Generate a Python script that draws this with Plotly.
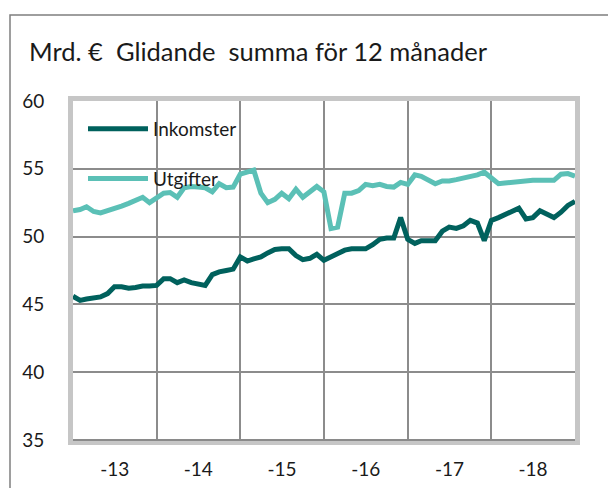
import pandas as pd
import plotly.graph_objects as go

# Monthly data, Jan 2013 .. Jan 2019 (rolling 12-month sum, bn EUR)
dates = pd.date_range("2013-01-01", periods=73, freq="MS")

inkomster = [45.6, 45.3, 45.4, 45.45, 45.55, 45.8, 46.3, 46.3, 46.2, 46.25, 46.35, 46.35,
             46.4, 46.9, 46.9, 46.6, 46.8, 46.6, 46.5, 46.4, 47.2, 47.4, 47.5, 47.6,
             48.5, 48.2, 48.35, 48.5, 48.8, 49.05, 49.1, 49.1, 48.6, 48.3, 48.4, 48.7,
             48.25, 48.5, 48.8, 49.0, 49.1, 49.1, 49.1, 49.4, 49.8, 49.9, 49.9, 51.4,
             49.8, 49.5, 49.7, 49.7, 49.7, 50.4, 50.7, 50.6, 50.8, 51.2, 51.0, 49.7,
             51.2, 51.4, 51.6, 51.9, 52.1, 51.3, 51.4, 51.9, 51.6, 51.4, 51.8, 52.3, 52.6]

utgifter = [51.9, 52.0, 52.2, 51.85, 51.75, 51.9, 52.1, 52.25, 52.45, 52.7, 52.9, 52.5,
            52.9, 53.2, 53.25, 52.9, 53.6, 53.7, 53.65, 53.6, 53.3, 53.9, 53.6, 53.65,
            54.6, 54.75, 54.9, 53.2, 52.5, 52.75, 53.2, 52.8, 53.5, 52.9, 53.3, 53.7,
            53.3, 50.6, 50.7, 53.2, 53.2, 53.4, 53.85, 53.75, 53.85, 53.7, 53.65, 54.0,
            53.85, 54.55, 54.45, 54.2, 53.9, 54.1, 54.1, 54.2, 54.3, 54.4, 54.55, 54.75,
            54.3, 53.9, 53.95, 54.0, 54.1, 54.15, 54.15, 54.15, 54.15, 54.15, 54.6, 54.65, 54.45]

year_starts = ["2013-01-01", "2014-01-01", "2015-01-01", "2016-01-01",
               "2017-01-01", "2018-01-01", "2019-01-01"]
label_pos = ["2013-07-02", "2014-07-02", "2015-07-02", "2016-07-02",
             "2017-07-02", "2018-07-02"]
x_labels = ["-13", "-14", "-15", "-16", "-17", "-18"]
y_ticks = [35, 40, 45, 50, 55, 60]

title_text = "Mrd. €  Glidande  summa för 12 månader"

FONT = "Lato"
OFF = 8  # page body margin offset
W, H = 616, 488
# plot area in page pixels: x 73..575, y 101..440
ML, MT = 73 - OFF, 101 - OFF
MR, MB = W - (575 - OFF), H - (440 - OFF)
PW, PH = W - ML - MR, H - MT - MB

fig = go.Figure()
fig.add_trace(go.Scatter(x=dates, y=inkomster, mode="lines", name="Inkomster",
                         legendgroup="a",
                         line=dict(color="#00615d", width=5)))
fig.add_trace(go.Scatter(x=dates, y=utgifter, mode="lines", name="Utgifter",
                         legendgroup="b",
                         line=dict(color="#5bc0b6", width=5)))

def px_x(p):
    return (p - OFF - ML) / PW

def px_y(p):
    return (H - MB - (p - OFF)) / PH

fig.update_layout(
    width=W, height=H,
    margin=dict(l=ML, r=MR, t=MT, b=MB, autoexpand=False),
    paper_bgcolor="white", plot_bgcolor="white",
    font=dict(family=FONT, color="#1a1a1a", size=19),
    showlegend=True,
    legend=dict(x=px_x(83), y=px_y(110), xanchor="left", yanchor="top",
                bgcolor="rgba(0,0,0,0)", font=dict(size=19, family=FONT),
                itemwidth=60, tracegroupgap=22, traceorder="grouped"),
    xaxis=dict(type="date", range=[year_starts[0], year_starts[-1]],
               automargin=False,
               tickmode="array", tickvals=label_pos, ticktext=x_labels,
               showgrid=False, ticks="", ticklabelstandoff=8,
               showline=True, mirror=True, linecolor="#c6c6c6", linewidth=5,
               minor=dict(tickmode="array", tickvals=year_starts, showgrid=True,
                          gridcolor="#8c8c8c", gridwidth=1.6, ticks=""),
               tickfont=dict(size=19)),
    yaxis=dict(range=[35, 60], tickmode="array", tickvals=y_ticks,
               automargin=False,
               showgrid=True, gridcolor="#8c8c8c", gridwidth=1.6,
               zeroline=False, ticks="", ticklabelstandoff=20,
               showline=True, mirror=True, linecolor="#c6c6c6", linewidth=5,
               tickfont=dict(size=19)),
    shapes=[
        # outer chart border
        dict(type="rect", xref="paper", yref="paper",
             x0=px_x(10), x1=px_x(640), y0=px_y(510), y1=px_y(15),
             line=dict(color="#7f7f7f", width=1.5), layer="below"),
        # darker bottom axis line
        dict(type="line", xref="paper", yref="paper",
             x0=0, x1=1, y0=0, y1=0,
             line=dict(color="#8a8a8a", width=2), layer="above"),
    ],
    annotations=[
        dict(text=title_text, xref="paper", yref="paper",
             x=px_x(27), y=px_y(51), xanchor="left", yanchor="middle",
             showarrow=False, font=dict(size=25.5, family=FONT, color="#1a1a1a")),
    ],
)

fig.write_html("out.html")
